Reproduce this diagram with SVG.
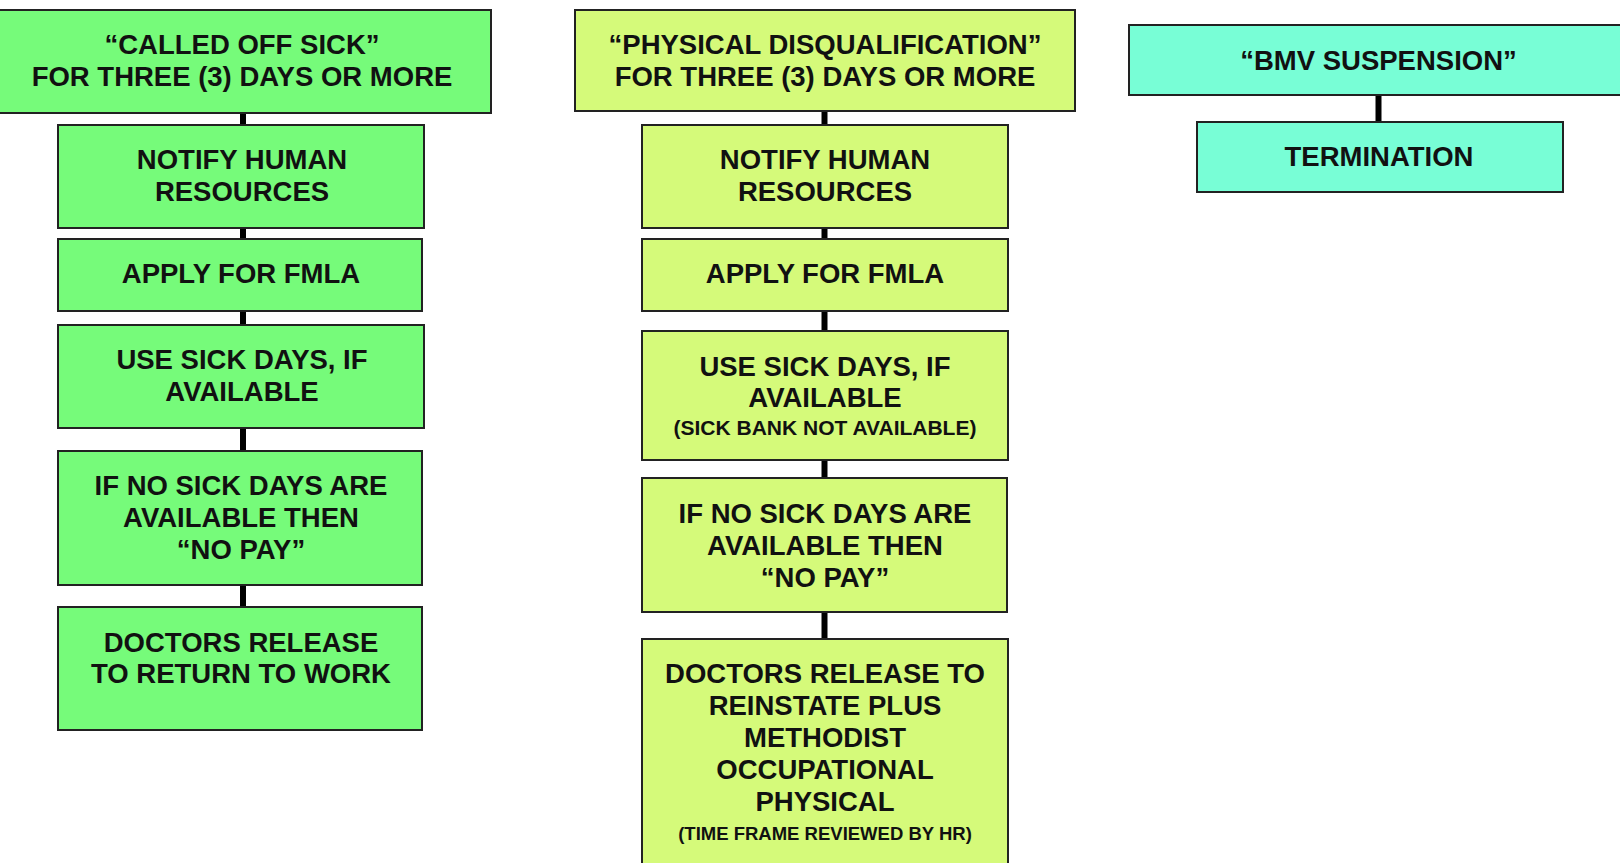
<svg xmlns="http://www.w3.org/2000/svg" width="1620" height="863" viewBox="0 0 1620 863">
<style>
.box{stroke:#222;stroke-width:2}
.g1{fill:#76FB7A}
.g2{fill:#D5FA7A}
.g3{fill:#78FED6}
text{font-family:"Liberation Sans",Arial,sans-serif;font-weight:bold;font-size:27.5px;fill:#111;text-anchor:middle}
.s{font-size:21px}
.t{font-size:18.5px}
.c{stroke:#000;stroke-width:6;fill:none}
</style>
<rect width="1620" height="863" fill="#fff"/>
<g id="connectors">
<line class="c" x1="243" y1="113" x2="243" y2="125"/>
<line class="c" x1="243" y1="228" x2="243" y2="239"/>
<line class="c" x1="243" y1="311" x2="243" y2="325"/>
<line class="c" x1="243" y1="428" x2="243" y2="451"/>
<line class="c" x1="243" y1="585" x2="243" y2="607"/>
<line class="c" x1="824.5" y1="111" x2="824.5" y2="125"/>
<line class="c" x1="824.5" y1="228" x2="824.5" y2="239"/>
<line class="c" x1="824.5" y1="311" x2="824.5" y2="331"/>
<line class="c" x1="824.5" y1="460" x2="824.5" y2="478"/>
<line class="c" x1="824.5" y1="612" x2="824.5" y2="639"/>
<line class="c" x1="1378.5" y1="95" x2="1378.5" y2="122"/>
</g>
<g id="n1a"><rect class="box g1" x="-2" y="10" width="493" height="103"/><text x="242" y="54">“CALLED OFF SICK”</text><text x="242" y="86">FOR THREE (3) DAYS OR MORE</text></g>
<g id="n1b"><rect class="box g1" x="58" y="125" width="366" height="103"/><text x="242" y="169">NOTIFY HUMAN</text><text x="242" y="201">RESOURCES</text></g>
<g id="n1c"><rect class="box g1" x="58" y="239" width="364" height="72"/><text x="241" y="283">APPLY FOR FMLA</text></g>
<g id="n1d"><rect class="box g1" x="58" y="325" width="366" height="103"/><text x="242" y="369">USE SICK DAYS, IF</text><text x="242" y="401">AVAILABLE</text></g>
<g id="n1e"><rect class="box g1" x="58" y="451" width="364" height="134"/><text x="241" y="495">IF NO SICK DAYS ARE</text><text x="241" y="527">AVAILABLE THEN</text><text x="241" y="559">“NO PAY”</text></g>
<g id="n1f"><rect class="box g1" x="58" y="607" width="364" height="123"/><text x="241" y="652">DOCTORS RELEASE</text><text x="241" y="683">TO RETURN TO WORK</text></g>
<g id="n2a"><rect class="box g2" x="575" y="10" width="500" height="101"/><text x="825" y="54">“PHYSICAL DISQUALIFICATION”</text><text x="825" y="86">FOR THREE (3) DAYS OR MORE</text></g>
<g id="n2b"><rect class="box g2" x="642" y="125" width="366" height="103"/><text x="825" y="169">NOTIFY HUMAN</text><text x="825" y="201">RESOURCES</text></g>
<g id="n2c"><rect class="box g2" x="642" y="239" width="366" height="72"/><text x="825" y="283">APPLY FOR FMLA</text></g>
<g id="n2d"><rect class="box g2" x="642" y="331" width="366" height="129"/><text x="825" y="376">USE SICK DAYS, IF</text><text x="825" y="407">AVAILABLE</text><text class="s" x="825" y="435">(SICK BANK NOT AVAILABLE)</text></g>
<g id="n2e"><rect class="box g2" x="642" y="478" width="365" height="134"/><text x="825" y="523">IF NO SICK DAYS ARE</text><text x="825" y="555">AVAILABLE THEN</text><text x="825" y="587">“NO PAY”</text></g>
<g id="n2f"><rect class="box g2" x="642" y="639" width="366" height="240"/><text x="825" y="683">DOCTORS RELEASE TO</text><text x="825" y="715">REINSTATE PLUS</text><text x="825" y="747">METHODIST</text><text x="825" y="779">OCCUPATIONAL</text><text x="825" y="811">PHYSICAL</text><text class="t" x="825" y="840">(TIME FRAME REVIEWED BY HR)</text></g>
<g id="n3a"><rect class="box g3" x="1129" y="25" width="500" height="70"/><text x="1378.5" y="70">“BMV SUSPENSION”</text></g>
<g id="n3b"><rect class="box g3" x="1197" y="122" width="366" height="70"/><text x="1379" y="166">TERMINATION</text></g>
</svg>
